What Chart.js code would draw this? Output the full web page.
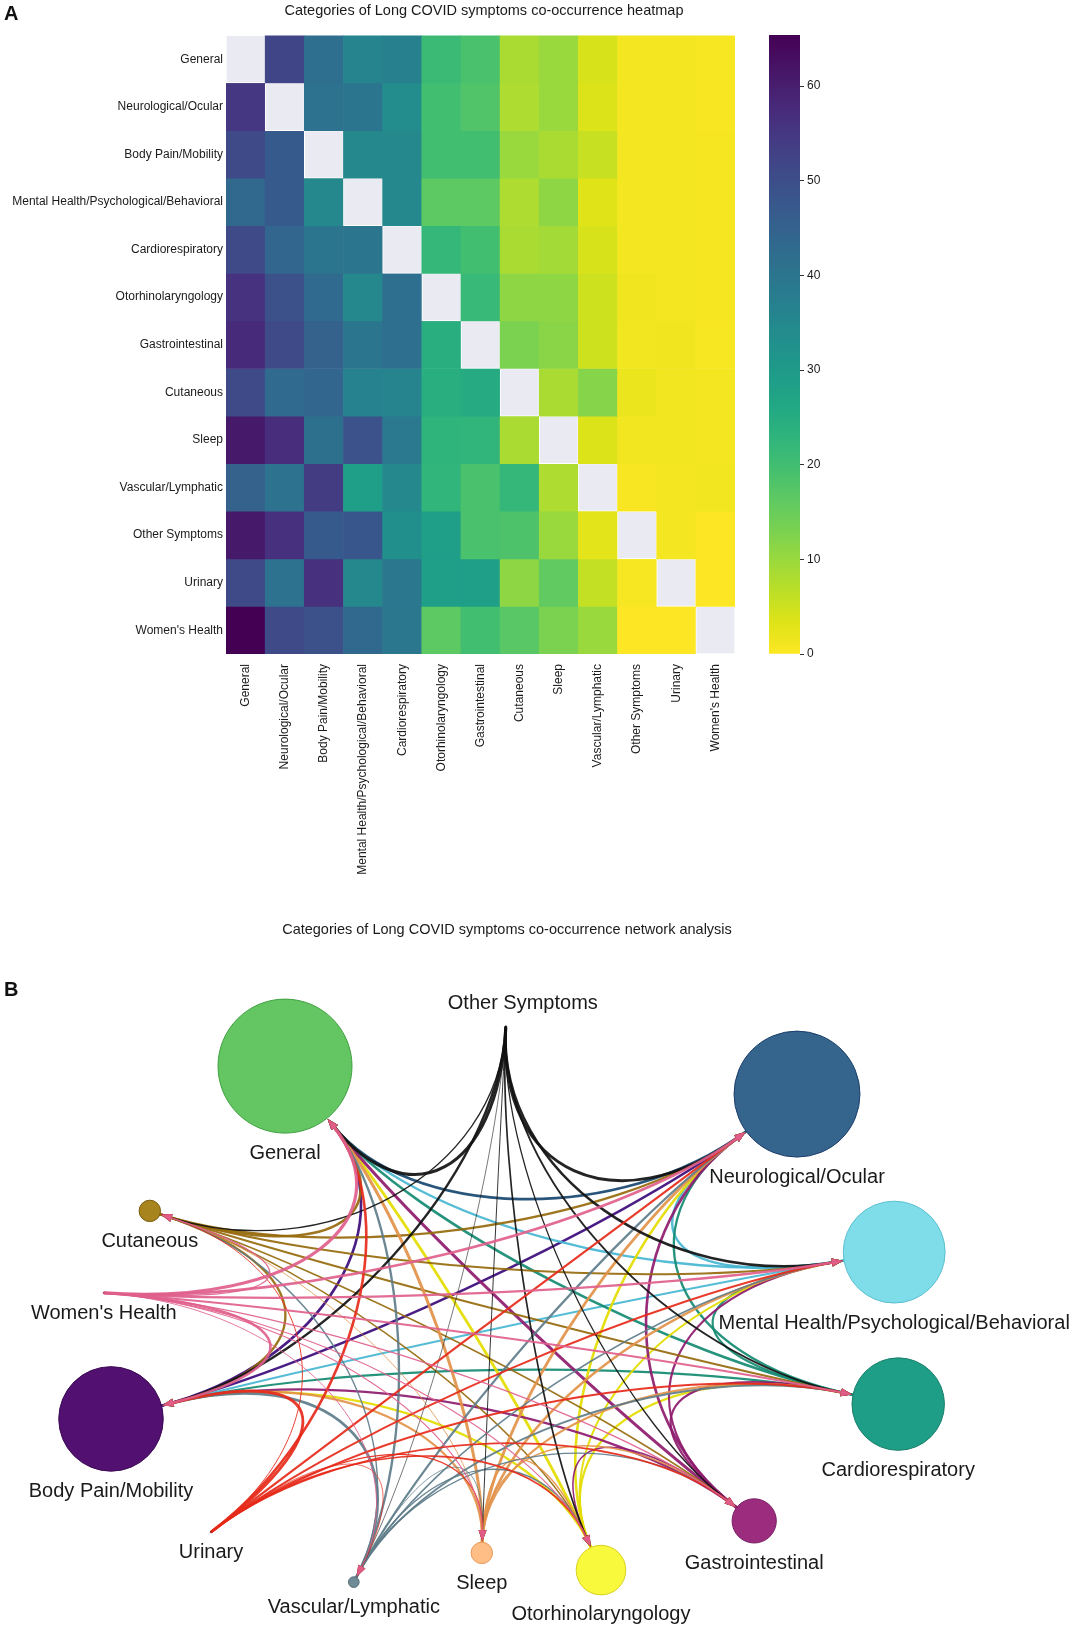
<!DOCTYPE html>
<html>
<head>
<meta charset="utf-8">
<script src="https://cdn.jsdelivr.net/npm/chart.js@4.4.1/dist/chart.umd.min.js"></script>
<style>
  body { margin: 0; background: #fff; }
  #page { position: relative; width: 1092px; height: 1637px; overflow: hidden; font-family: 'Liberation Sans', Arial, sans-serif; }
  canvas { position: absolute; }
  .panel { position: absolute; font-weight: bold; font-size: 20px; line-height: 20px; color: #111; }
</style>
</head>
<body>
<div id="page">
  <canvas id="heatmap" width="968" height="890" style="left:0;top:0"></canvas>
  <canvas id="colorbar" width="120" height="700" style="left:740px;top:0"></canvas>
  <canvas id="network" width="1092" height="757" style="left:0;top:880px"></canvas>
  <div class="panel" style="left:4px;top:3px">A</div>
  <div class="panel" style="left:4px;top:979px">B</div>
</div>
<script>
// categories, in the order of the heatmap rows / columns
const categories = ['General', 'Neurological/Ocular', 'Body Pain/Mobility',
  'Mental Health/Psychological/Behavioral', 'Cardiorespiratory', 'Otorhinolaryngology',
  'Gastrointestinal', 'Cutaneous', 'Sleep', 'Vascular/Lymphatic', 'Other Symptoms',
  'Urinary', "Women's Health"];

// co-occurrence (%), one row per category, null on the diagonal
const rowGeneral    = [null, 52, 42, 36, 37, 21, 19, 8.5, 10, 4, 1, 1, 0.7];
const rowNeuro      = [55, null, 41, 40, 34, 20, 18, 8, 10, 3.5, 1, 1, 0.5];
const rowBodyPain   = [51, 47, null, 35, 35, 20, 20, 10, 8.5, 5.5, 1, 1, 0.8];
const rowMental     = [43.5, 47, 35, null, 35, 16.5, 16.5, 8, 11, 3, 1, 1, 0.8];
const rowCardio     = [51, 44, 40, 40, null, 22, 20, 8.5, 9, 4, 1, 1, 0.8];
const rowOtorhino   = [56, 49.5, 43, 35, 42, null, 21.5, 11, 11, 5, 1.3, 1, 0.8];
const rowGastro     = [57.5, 51, 45, 40, 42, 24.5, null, 13, 11.5, 5, 1.2, 1.3, 0.7];
const rowCutaneous  = [51, 43, 44, 36.5, 36, 24.5, 25.5, null, 8.5, 12, 2, 1.2, 1];
const rowSleep      = [61, 57, 41.5, 49, 39, 23, 22.5, 8.5, null, 3.5, 1.2, 1.2, 1];
const rowVascular   = [45, 41, 54, 28.5, 35, 22.5, 19, 22, 8, null, 0.5, 1, 1.2];
const rowOther      = [61, 56.5, 47, 48, 33, 28.5, 19, 18.5, 10, 2.8, null, 1, 0];
const rowUrinary    = [51, 41, 56.5, 35, 39.5, 29, 29, 11, 16, 6, 0.7, null, 0];
const rowWomen      = [65.4, 51, 49.5, 43.5, 39.5, 16.5, 20, 17, 13, 10, 0, 0, null];
const coOccurrence = [rowGeneral, rowNeuro, rowBodyPain, rowMental, rowCardio, rowOtorhino,
  rowGastro, rowCutaneous, rowSleep, rowVascular, rowOther, rowUrinary, rowWomen];

const colorbarTicks = [0, 10, 20, 30, 40, 50, 60];

// network layout (layout units, centre of the ring near 0,0) and node size (relative)
const nodeX    = [-0.555, 0.725, -0.99, 0.968, 0.978, 0.235, 0.618, -0.893, -0.063, -0.383, -0.003, -0.74, -1.008];
const nodeY    = [0.606, 0.536, -0.276, 0.141, -0.239, -0.654, -0.531, 0.244, -0.611, -0.684, 0.704, -0.559, 0.039];
const nodeSize = [100, 94, 78, 76, 69, 37, 33, 16, 16, 8, 1.5, 1, 1];

// styles
const nodeFill   = ['#63c663', '#35648c', '#521070', '#7fdde9', '#1f9e87', '#f8f83c', '#9c2c7e',
  '#a8841f', '#ffbe85', '#6f8c96', '#222222', '#c0392b', '#d9668a'];
const nodeStroke = ['#3f9f3f', '#1c3d6b', '#3d0a55', '#5bbfd0', '#1a7f6b', '#d8d020', '#7a1d62',
  '#7a5c10', '#e89a5a', '#55707a', '#111111', '#a02a1f', '#b84a70'];
const edgeColor  = ['#3aa83a', '#17466f', '#3b0a7a', '#46b6d2', '#138a72', '#e3dc00', '#8e1a6e',
  '#966a0c', '#e3924a', '#5e7d8a', '#111111', '#e62a1a', '#df5f8c'];

const viridisStops = ['#440154', '#471365', '#482475', '#463480', '#414487', '#3b528b', '#355f8d',
  '#2f6c8e', '#2a788e', '#25848e', '#21918c', '#1e9c89', '#22a884', '#2fb47c', '#44bf70', '#5ec962',
  '#7ad151', '#9bd93c', '#bddf26', '#dfe318', '#fde725'];

const textColor = '#1a1a1a';
Chart.defaults.font.family = "'Liberation Sans', Arial, sans-serif";
Chart.defaults.color = textColor;

const vmax = Math.max(...coOccurrence.flat().filter(v => v != null));

function hexRgb(h) {
  return [1, 3, 5].map(k => parseInt(h.substr(k, 2), 16));
}
function viridis(t) {
  t = Math.min(1, Math.max(0, t));
  const f = t * (viridisStops.length - 1);
  const i = Math.min(Math.floor(f), viridisStops.length - 2);
  const u = f - i;
  const a = hexRgb(viridisStops[i]), b = hexRgb(viridisStops[i + 1]);
  return 'rgb(' + a.map((c, k) => Math.round(c + (b[k] - c) * u)).join(',') + ')';
}
// reversed viridis: 0 -> yellow, max -> dark purple
const heatColor = v => v == null ? '#eaeaf2' : viridis(1 - v / vmax);

// ---------- A: heatmap ----------
new Chart(document.getElementById('heatmap'), {
  type: 'bar',
  data: {
    labels: categories,
    datasets: coOccurrence.map((row, r) => ({
      label: categories[r],
      data: row.map(() => [r, r + 1]),
      backgroundColor: row.map(heatColor),
      borderColor: '#ffffff',
      borderWidth: row.map(v => v == null ? 1 : 0),
      borderSkipped: false,
      grouped: false,
      barPercentage: 1,
      categoryPercentage: 1,
      yAxisID: 'y'
    }))
  },
  options: {
    responsive: false,
    animation: false,
    events: [],
    plugins: {
      legend: { display: false },
      tooltip: { enabled: false },
      title: {
        display: true,
        text: 'Categories of Long COVID symptoms co-occurrence heatmap',
        color: textColor,
        font: { size: 14.5, weight: 'normal' },
        padding: { top: 2, bottom: 16 }
      }
    },
    scales: {
      x: {
        type: 'category',
        grid: { display: false, drawTicks: false },
        border: { display: false },
        ticks: { autoSkip: false, minRotation: 90, maxRotation: 90, padding: 10, color: textColor, font: { size: 12 } },
        afterFit: s => { s.height = 236; }
      },
      y: { type: 'linear', display: false, min: 0, max: categories.length, reverse: true },
      yLab: {
        type: 'category',
        labels: categories,
        position: 'left',
        offset: true,
        grid: { display: false, drawTicks: false },
        border: { display: false },
        ticks: { autoSkip: false, padding: 3, color: textColor, font: { size: 12 } },
        afterFit: s => { s.width = 226; }
      },
      yPad: {
        type: 'linear',
        position: 'right',
        grid: { display: false, drawTicks: false },
        border: { display: false },
        ticks: { display: false },
        afterFit: s => { s.width = 233; }
      }
    }
  }
});

// colour bar
new Chart(document.getElementById('colorbar'), {
  type: 'bar',
  data: {
    labels: [''],
    datasets: [{
      data: [[0, vmax]],
      backgroundColor: c => {
        const ch = c.chart;
        if (!ch.chartArea) return '#888';
        const ys = ch.scales.y;
        const g = ch.ctx.createLinearGradient(0, ys.getPixelForValue(0), 0, ys.getPixelForValue(vmax));
        const n = viridisStops.length - 1;
        viridisStops.forEach((s, k) => g.addColorStop(k / n, viridis(1 - k / n)));
        return g;
      },
      borderWidth: 0,
      barPercentage: 1,
      categoryPercentage: 1
    }]
  },
  options: {
    responsive: false,
    animation: false,
    events: [],
    layout: { padding: { left: 29, top: 35, bottom: 46, right: 0 } },
    plugins: { legend: { display: false }, tooltip: { enabled: false } },
    scales: {
      x: { display: false },
      y: {
        position: 'right',
        min: 0,
        max: vmax,
        afterBuildTicks: s => { s.ticks = colorbarTicks.map(v => ({ value: v })); },
        grid: { drawOnChartArea: false, drawTicks: true, tickLength: 4, tickColor: '#333' },
        border: { display: false },
        ticks: { color: textColor, font: { size: 12 }, padding: 3 },
        afterFit: s => { s.width = 60; }
      }
    }
  }
});

// ---------- B: network ----------
const maxNodeRadius = 0.1675;          // layout units for the largest node
const hub = [-0.043, -0.029];          // edges bend towards this point
const pull = 0.5;

function unitPx(chart) {
  const xs = chart.scales.x;
  return xs.getPixelForValue(1) - xs.getPixelForValue(0);
}
function nodeRadiusPx(chart, i) {
  return nodeSize[i] / 100 * maxNodeRadius * unitPx(chart);
}
function nodePx(chart, i) {
  return [chart.scales.x.getPixelForValue(nodeX[i]), chart.scales.y.getPixelForValue(nodeY[i])];
}

const networkPlugin = {
  id: 'networkEdges',
  beforeDatasetsDraw(chart) {
    const ctx = chart.ctx;
    const hx = chart.scales.x.getPixelForValue(hub[0]);
    const hy = chart.scales.y.getPixelForValue(hub[1]);
    const toward = (p, r) => {
      const dx = hx - p[0], dy = hy - p[1];
      const d = Math.hypot(dx, dy) || 1;
      return [p[0] + dx / d * r, p[1] + dy / d * r];
    };
    ctx.save();
    ctx.lineCap = 'round';
    for (let i = 1; i < categories.length; i++) {
      for (let j = 0; j < i; j++) {
        const w = coOccurrence[i][j];
        if (w == null || w < 1) continue;
        const s = toward(nodePx(chart, i), nodeRadiusPx(chart, i));
        const e = toward(nodePx(chart, j), nodeRadiusPx(chart, j) + 1);
        const c1 = [s[0] + (hx - s[0]) * pull, s[1] + (hy - s[1]) * pull];
        const c2 = [e[0] + (hx - e[0]) * pull, e[1] + (hy - e[1]) * pull];
        const ang = Math.atan2(e[1] - c2[1], e[0] - c2[0]);
        const len = 11, half = 4;
        const bx = e[0] - Math.cos(ang) * len * 0.7, by = e[1] - Math.sin(ang) * len * 0.7;
        ctx.strokeStyle = edgeColor[i];
        ctx.globalAlpha = 0.92;
        ctx.lineWidth = 0.5 + w / 24;
        ctx.beginPath();
        ctx.moveTo(s[0], s[1]);
        ctx.bezierCurveTo(c1[0], c1[1], c2[0], c2[1], bx, by);
        ctx.stroke();
        // arrow head
        const ax = e[0] - Math.cos(ang) * len, ay = e[1] - Math.sin(ang) * len;
        ctx.fillStyle = edgeColor[i];
        ctx.beginPath();
        ctx.moveTo(e[0], e[1]);
        ctx.lineTo(ax - Math.sin(ang) * half, ay + Math.cos(ang) * half);
        ctx.lineTo(ax + Math.sin(ang) * half, ay - Math.cos(ang) * half);
        ctx.closePath();
        ctx.fill();
      }
    }
    ctx.restore();
  },
  afterDatasetsDraw(chart) {
    const ctx = chart.ctx;
    ctx.save();
    ctx.font = "20px 'Liberation Sans', Arial, sans-serif";
    ctx.fillStyle = textColor;
    ctx.textAlign = 'center';
    ctx.textBaseline = 'middle';
    categories.forEach((name, i) => {
      const p = nodePx(chart, i);
      const r = nodeRadiusPx(chart, i);
      if (name === 'Other Symptoms') {
        ctx.fillText(name, p[0] + 17, p[1] - 23);
      } else {
        ctx.fillText(name, p[0], p[1] + r + 20);
      }
    });
    ctx.restore();
  }
};

new Chart(document.getElementById('network'), {
  type: 'scatter',
  data: {
    datasets: [{
      data: nodeX.map((x, i) => ({ x: x, y: nodeY[i] })),
      showLine: false,
      pointStyle: 'circle',
      pointRadius: c => nodeRadiusPx(c.chart, c.dataIndex),
      pointBackgroundColor: nodeFill,
      pointBorderColor: nodeStroke,
      pointBorderWidth: 1,
      clip: false
    }]
  },
  options: {
    responsive: false,
    animation: false,
    events: [],
    layout: { padding: { right: 78 } },
    plugins: {
      legend: { display: false },
      tooltip: { enabled: false },
      title: {
        display: true,
        text: 'Categories of Long COVID symptoms co-occurrence network analysis',
        color: textColor,
        font: { size: 14.5, weight: 'normal' },
        padding: { top: 41, bottom: 41.6 }
      }
    },
    scales: {
      x: { type: 'linear', display: false, min: -1.2675, max: 1.2675 },
      y: { type: 'linear', display: false, min: -0.82125, max: 0.82125 }
    }
  },
  plugins: [networkPlugin]
});
</script>
</body>
</html>
